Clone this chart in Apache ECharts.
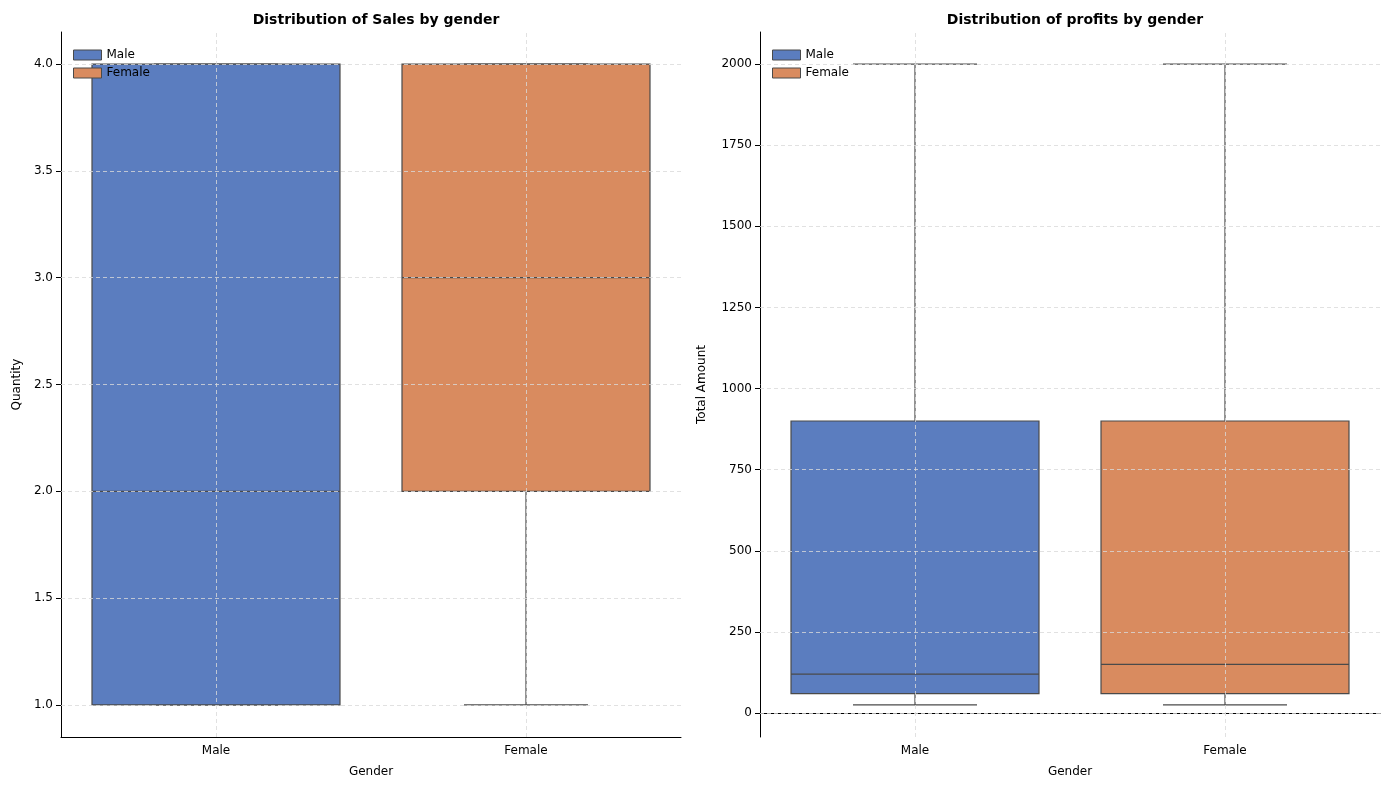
<!DOCTYPE html>
<html><head><meta charset="utf-8">
<script src="https://cdn.jsdelivr.net/npm/echarts@6/dist/echarts.min.js"></script>
<style>html,body{margin:0;padding:0;background:#fff}#c{width:1389px;height:790px}</style>
</head><body><div id="c"></div>
<script>
const categories = ['Male', 'Female'];
const colors = ['#5b7dbf', '#d98b5f'];
// [min, q1, median, q3, max]
const salesMale = [1, 1, 2, 4, 4];
const salesFemale = [1, 2, 3, 4, 4];
const profitMale = [25, 60, 120, 900, 2000];
const profitFemale = [25, 60, 150, 900, 2000];
const salesTicks = [1.0, 1.5, 2.0, 2.5, 3.0, 3.5, 4.0];
const profitTicks = [0, 250, 500, 750, 1000, 1250, 1500, 1750, 2000];

const chart = echarts.init(document.getElementById('c'));
const F = 'DejaVu Sans';
const edge = '#4a4a4a';

function renderBox(params, api) {
  const x = api.value(0);
  const v = [api.value(1), api.value(2), api.value(3), api.value(4), api.value(5)];
  const bw = api.size([1, 0])[0] * 0.8;
  const cap = bw / 2;
  const c = api.coord([x, 0])[0];
  const y = v.map(d => api.coord([x, d])[1]);
  const ls = {stroke: edge, lineWidth: 1.2};
  return {type: 'group', children: [
    {type: 'line', shape: {x1: c, y1: y[0], x2: c, y2: y[1]}, style: ls},
    {type: 'line', shape: {x1: c, y1: y[3], x2: c, y2: y[4]}, style: ls},
    {type: 'line', shape: {x1: c - cap/2, y1: y[0], x2: c + cap/2, y2: y[0]}, style: ls},
    {type: 'line', shape: {x1: c - cap/2, y1: y[4], x2: c + cap/2, y2: y[4]}, style: ls},
    {type: 'rect', shape: {x: c - bw/2, y: y[3], width: bw, height: y[1] - y[3]},
      style: {fill: api.visual('color'), stroke: edge, lineWidth: 1.2}},
    {type: 'line', shape: {x1: c - bw/2, y1: y[2], x2: c + bw/2, y2: y[2]}, style: ls}
  ]};
}

function gridLines(ticks) {
  const d = ticks.map(t => ({yAxis: t}));
  categories.forEach(c => d.push({xAxis: c}));
  return {silent: true, symbol: 'none', label: {show: false},
    lineStyle: {color: '#d9d9d9', type: [4, 3], width: 0.8}, data: d};
}

function series(gi, name, ci, vals, ticks) {
  return {type: 'custom', name: name, xAxisIndex: gi, yAxisIndex: gi,
    itemStyle: {color: colors[ci]}, renderItem: renderBox,
    data: [[ci].concat(vals)], z: 3,
    markLine: ci === 0 ? gridLines(ticks) : undefined};
}

function xAx(gi) {
  return {type: 'category', gridIndex: gi, data: categories, name: 'Gender',
    nameLocation: 'middle', nameGap: 29, nameTextStyle: {fontFamily: F, fontSize: 12, color: '#000'},
    axisLine: {lineStyle: {color: '#000'}}, axisTick: {alignWithLabel: true, lineStyle: {color: '#000'}},
    axisLabel: {fontFamily: F, fontSize: 12, color: '#000'}, splitLine: {show: false}};
}
function yAx(gi, name, min, max, ticks, fmt, gap) {
  return {type: 'value', gridIndex: gi, min: min, max: max, name: name,
    nameLocation: 'middle', nameGap: gap, nameTextStyle: {fontFamily: F, fontSize: 12, color: '#000'},
    axisLine: {show: true, lineStyle: {color: '#000'}},
    axisTick: {show: true, customValues: ticks, lineStyle: {color: '#000'}},
    axisLabel: {customValues: ticks, formatter: fmt, fontFamily: F, fontSize: 12, color: '#000'},
    splitLine: {show: false}};
}
function legend(left) {
  return {left: left, top: 44, orient: 'vertical', itemWidth: 28, itemHeight: 10, itemGap: 6,
    icon: 'rect', textStyle: {fontFamily: F, fontSize: 12, color: '#000'},
    itemStyle: {borderColor: edge, borderWidth: 1},
    data: ['Male', 'Female']};
}

chart.setOption({
  animation: false,
  title: [
    {text: 'Distribution of Sales by gender', left: 371, top: 8, textAlign: 'center',
      textStyle: {fontFamily: F, fontSize: 14, fontWeight: 'bold', color: '#000'}},
    {text: 'Distribution of profits by gender', left: 1070, top: 8, textAlign: 'center',
      textStyle: {fontFamily: F, fontSize: 14, fontWeight: 'bold', color: '#000'}}
  ],
  legend: [legend(68), legend(767)],
  grid: [
    {left: 61, right: 708, top: 32, bottom: 53},
    {left: 760, right: 9, top: 32, bottom: 53}
  ],
  xAxis: [xAx(0), xAx(1)],
  yAxis: [
    yAx(0, 'Quantity', 0.85, 4.15, salesTicks, v => v.toFixed(1), 38),
    yAx(1, 'Total Amount', -74, 2099, profitTicks, v => String(v), 52)
  ],
  series: [
    series(0, 'Male', 0, salesMale, salesTicks),
    series(0, 'Female', 1, salesFemale, salesTicks),
    series(1, 'Male', 0, profitMale, profitTicks),
    series(1, 'Female', 1, profitFemale, profitTicks)
  ]
});
</script></body></html>
